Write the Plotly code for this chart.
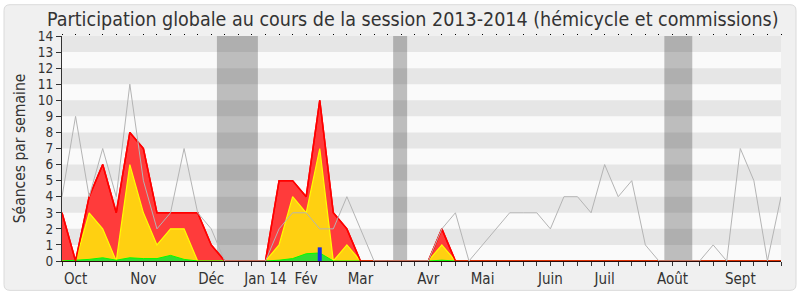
import plotly.graph_objects as go

# ---- data (weekly, session 2013-2014) ----
weeks = list(range(54))
month_labels = {1: "Oct", 6: "Nov", 11: "Déc", 15: "Jan 14", 18: "Fév", 22: "Mar",
                27: "Avr", 31: "Mai", 36: "Juin", 40: "Juil", 45: "Août", 50: "Sept"}

grey_line = [4, 9, 4, 7, 4, 11, 5, 2, 3, 7, 3, 2, 0, 0, 0, 0, 2, 3, 3, 2,
             2, 4, 2, 0, 0, 0, 0, 0, 2, 3, 0, 1, 2, 3, 3, 3, 2, 4, 4, 3,
             6, 4, 5, 1, 0, 0, 0, 0, 1, 0, 7, 5, 0, 4]
red_total = [3, 0, 4, 6, 3, 8, 7, 3, 3, 3, 3, 1, 0, 0, 0, 0, 5, 5, 4, 10,
             3, 2, 0, 0, 0, 0, 0, 0, 2, 0, 0, 0, 0, 0, 0, 0, 0, 0, 0, 0,
             0, 0, 0, 0, 0, 0, 0, 0, 0, 0, 0, 0, 0, 0]
yellow = [0, 0, 3, 2, 0, 6, 3, 1, 2, 2, 0, 0, 0, 0, 0, 0, 1, 4, 3, 7,
          0, 1, 0, 0, 0, 0, 0, 0, 1, 0, 0, 0, 0, 0, 0, 0, 0, 0, 0, 0,
          0, 0, 0, 0, 0, 0, 0, 0, 0, 0, 0, 0, 0, 0]
green = [0, 0.05, 0.1, 0.2, 0.05, 0.2, 0.15, 0.15, 0.35, 0.1, 0, 0, 0, 0, 0, 0,
         0.05, 0.15, 0.45, 0.5, 0, 0, 0, 0, 0, 0, 0, 0, 0.05, 0, 0, 0, 0, 0, 0,
         0, 0, 0, 0, 0, 0, 0, 0, 0, 0, 0, 0, 0, 0, 0, 0, 0, 0, 0]
blue_weeks = [19]
blue_vals = [0.85]
vacations = [(11.42, 14.44), (24.41, 25.44), (44.4, 46.46)]
y_max = 14

FONT = "DejaVu Sans Condensed"
fig = go.Figure()

fig.add_trace(go.Scatter(x=weeks, y=red_total, mode="lines", fill="tozeroy",
                         line=dict(color="#ff0000", width=1.5), fillcolor="#ff3b3b",
                         hoverinfo="skip"))
fig.add_trace(go.Scatter(x=weeks, y=yellow, mode="lines", fill="tozeroy",
                         line=dict(color="#ffff00", width=1.2), fillcolor="#ffd011",
                         hoverinfo="skip"))
fig.add_trace(go.Scatter(x=weeks, y=green, mode="lines", fill="tozeroy",
                         line=dict(color="#00ff00", width=1), fillcolor="#33dd33",
                         hoverinfo="skip"))
# red outline again on top so the baseline stays red
fig.add_trace(go.Scatter(x=weeks, y=red_total, mode="lines",
                         line=dict(color="#ff0000", width=1.5), hoverinfo="skip"))
for w, v in zip(blue_weeks, blue_vals):
    fig.add_trace(go.Scatter(x=[w, w], y=[0, v], mode="lines",
                             line=dict(color="#1a2ee6", width=4), hoverinfo="skip"))
fig.add_trace(go.Scatter(x=weeks, y=grey_line, mode="lines",
                         line=dict(color="#b4b4b4", width=1), hoverinfo="skip"))
# dummy trace for top tick dots axis
fig.add_trace(go.Scatter(x=[0, 53], y=[0, 0], xaxis="x2", mode="lines",
                         line=dict(width=0), showlegend=False, hoverinfo="skip"))

# rounded outer frame (in paper coords of plot area)
L, R, T, B = 62, 781, 36, 266
W, H = R - L, B - T
def px(xp): return (xp - L) / W
def py(yp): return (B - yp) / H
fx0, fx1, fy0, fy1, rad = 4, 796, 4, 296, 6
path = (f"M {px(fx0+rad)},{py(fy0)} L {px(fx1-rad)},{py(fy0)} Q {px(fx1)},{py(fy0)} {px(fx1)},{py(fy0+rad)} "
        f"L {px(fx1)},{py(fy1-rad)} Q {px(fx1)},{py(fy1)} {px(fx1-rad)},{py(fy1)} "
        f"L {px(fx0+rad)},{py(fy1)} Q {px(fx0)},{py(fy1)} {px(fx0)},{py(fy1-rad)} "
        f"L {px(fx0)},{py(fy0+rad)} Q {px(fx0)},{py(fy0)} {px(fx0+rad)},{py(fy0)} Z")
shapes = [dict(type="path", xref="paper", yref="paper", path=path,
               fillcolor="#f0f0f0", line=dict(color="#dadada", width=1), layer="below"),
          dict(type="rect", xref="paper", yref="paper", x0=0, x1=1, y0=0, y1=1,
               fillcolor="#fafafa", line=dict(width=0), layer="below")]
for k in range(1, y_max, 2):
    shapes.append(dict(type="rect", xref="paper", yref="y", x0=0, x1=1, y0=k, y1=k + 1,
                       fillcolor="#e6e6e6", line=dict(width=0), layer="below"))
for a, b in vacations:
    shapes.append(dict(type="rect", xref="x", yref="paper", x0=a, x1=b, y0=0, y1=1,
                       fillcolor="rgba(50,50,50,0.3)", line=dict(width=0), layer="below"))

fig.update_layout(
    width=800, height=300,
    margin=dict(l=L, r=800 - R, t=T, b=300 - B),
    paper_bgcolor="white", plot_bgcolor="#fafafa",
    showlegend=False,
    font=dict(family=FONT, color="#333333", size=14),
    title=dict(text="Participation globale au cours de la session 2013-2014 (hémicycle et commissions)",
               x=0.516, xanchor="center", xref="container", y=0.937, yanchor="middle",
               font=dict(size=19.5, color="#333333", family=FONT)),
    shapes=shapes,
    xaxis=dict(range=[0, 53], tickvals=weeks,
               ticktext=[month_labels.get(w, "") for w in weeks],
               ticks="outside", ticklen=4, tickcolor="#333333", showgrid=False, zeroline=False,
               showline=True, linecolor="#2a0a0a", linewidth=1,
               tickfont=dict(size=15, color="#333333", family=FONT)),
    xaxis2=dict(range=[0, 53], overlaying="x", side="top", tickvals=weeks,
                showticklabels=False, ticks="outside", ticklen=1, tickcolor="#000000",
                showgrid=False, zeroline=False, showline=False),
    yaxis=dict(range=[0, y_max], dtick=1, ticks="outside", ticklen=5, tickcolor="#333333",
               showgrid=False, zeroline=False, showline=True, linecolor="#333333", linewidth=1,
               tickfont=dict(size=13.5, color="#333333", family=FONT),
               title=dict(text="Séances par semaine", font=dict(size=15.5, color="#333333", family=FONT),
                          standoff=8)),
)

fig.write_html("out.html")
